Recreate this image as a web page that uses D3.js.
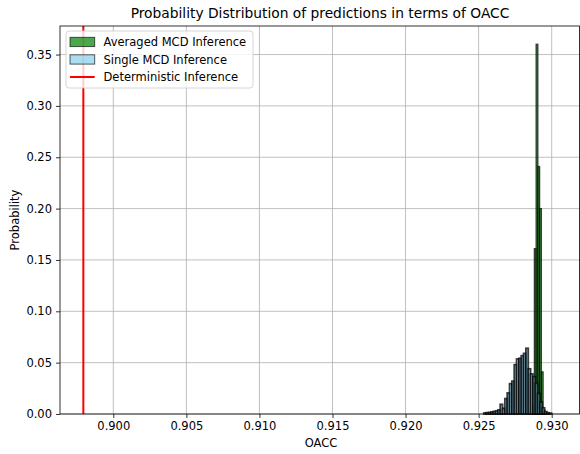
<!DOCTYPE html>
<html>
<head>
<meta charset="utf-8">
<script src="https://cdn.jsdelivr.net/npm/d3@7"></script>
<style>
  html, body { margin: 0; padding: 0; background: #fff; }
  svg { display: block; font-family: "DejaVu Sans", sans-serif; }
</style>
</head>
<body>
<svg id="chart" width="580" height="454"></svg>
<script>
// Tick positions
const xTickValues = [0.900, 0.905, 0.910, 0.915, 0.920, 0.925, 0.930];
const yTickValues = [0.00, 0.05, 0.10, 0.15, 0.20, 0.25, 0.30, 0.35];

// Deterministic inference OACC
const deterministicOacc = 0.89795;

// Single MCD inference histogram (probability per bin)
const singleBinStart = 0.925355;
const singleBinWidth = 0.00016;
const singleProb = [
  0.0010, 0.0013, 0.0015, 0.0020, 0.0025, 0.0030, 0.0040, 0.0094, 0.0055,
  0.0150, 0.0205, 0.0295, 0.0320, 0.0480, 0.0536, 0.0542, 0.0568, 0.0590,
  0.0640, 0.0440, 0.0390, 0.0363, 0.0300, 0.0200, 0.0115, 0.0060, 0.0023,
  0.0012, 0.0008
];

// Averaged MCD inference histogram (probability per bin)
const averagedBinStart = 0.928694;
const averagedBinWidth = 0.00012;
const averagedProb = [0.008, 0.161, 0.360, 0.241, 0.200, 0.041, 0.004];

const svg = d3.select("#chart");
const margin = { left: 60, top: 26, right: 0, bottom: 40 };
const W = 580, H = 454;
const plotBottom = 414;

const x = d3.scaleLinear().domain([0.896353, 0.931937]).range([margin.left, W - margin.right]);
const y = d3.scaleLinear().domain([0, 0.3778]).range([plotBottom, margin.top]);

const toBins = (start, width, probs) =>
  probs.map((p, i) => ({ x0: start + i * width, x1: start + (i + 1) * width, p }));

// Grid
const grid = svg.append("g").attr("stroke", "#b0b0b0").attr("stroke-width", 0.8);
grid.selectAll(".gx").data(xTickValues).join("line")
  .attr("x1", d => x(d)).attr("x2", d => x(d))
  .attr("y1", margin.top).attr("y2", plotBottom);
grid.selectAll(".gy").data(yTickValues).join("line")
  .attr("x1", margin.left).attr("x2", W)
  .attr("y1", d => y(d)).attr("y2", d => y(d));

// Histograms: narrow bins with dark outlines
function drawHist(bins, color, edgeWidth, edgeOpacity) {
  svg.append("g").selectAll("rect").data(bins).join("rect")
    .attr("x", d => x(d.x0))
    .attr("width", d => x(d.x1) - x(d.x0))
    .attr("y", d => y(d.p))
    .attr("height", d => y(0) - y(d.p))
    .attr("fill", color)
    .attr("fill-opacity", 0.7)
    .attr("stroke", "#000")
    .attr("stroke-opacity", edgeOpacity)
    .attr("stroke-width", edgeWidth);
}
drawHist(toBins(averagedBinStart, averagedBinWidth, averagedProb), "green", 1.3, 0.7);
drawHist(toBins(singleBinStart, singleBinWidth, singleProb), "skyblue", 1.8, 0.75);

// Deterministic line
svg.append("line")
  .attr("x1", x(deterministicOacc)).attr("x2", x(deterministicOacc))
  .attr("y1", margin.top).attr("y2", plotBottom)
  .attr("stroke", "red").attr("stroke-width", 2);

// Axes
const xAxis = d3.axisBottom(x).tickValues(xTickValues).tickFormat(d3.format(".3f")).tickSize(4).tickPadding(4);
const yAxis = d3.axisLeft(y).tickValues(yTickValues).tickFormat(d3.format(".2f")).tickSize(4).tickPadding(4);

const gx = svg.append("g").attr("transform", `translate(0,${plotBottom})`).call(xAxis);
const gy = svg.append("g").attr("transform", `translate(${margin.left},0)`).call(yAxis);
[gx, gy].forEach(g => {
  g.select(".domain").remove();
  g.selectAll("text").attr("fill", "#000").style("font-size", "11.5px").style("font-family", "DejaVu Sans");
  g.selectAll("line").attr("stroke", "#000").attr("stroke-width", 0.8);
});

// Spines
const spines = svg.append("g").attr("stroke", "#000").attr("stroke-width", 0.8).attr("fill", "none");
spines.append("rect")
  .attr("x", margin.left).attr("y", margin.top)
  .attr("width", W - margin.left - 0.5).attr("height", plotBottom - margin.top);

// Title and labels
svg.append("text").attr("x", 320).attr("y", 18).attr("text-anchor", "middle")
  .style("font-size", "13.8px").text("Probability Distribution of predictions in terms of OACC");
svg.append("text").attr("x", 321).attr("y", 447).attr("text-anchor", "middle")
  .style("font-size", "11.5px").text("OACC");
svg.append("text").attr("transform", "translate(19,220) rotate(-90)").attr("text-anchor", "middle")
  .style("font-size", "11.5px").text("Probability");

// Legend
const legend = svg.append("g");
legend.append("rect").attr("x", 66).attr("y", 31).attr("width", 187).attr("height", 57)
  .attr("rx", 3).attr("fill", "#fff").attr("fill-opacity", 0.8)
  .attr("stroke", "#cccccc").attr("stroke-width", 0.8);
const items = [
  { label: "Averaged MCD Inference", kind: "patch", color: "green" },
  { label: "Single MCD Inference", kind: "patch", color: "skyblue" },
  { label: "Deterministic Inference", kind: "line", color: "red" }
];
items.forEach((it, i) => {
  const cy = 42 + i * 17.5;
  if (it.kind === "patch") {
    legend.append("rect").attr("x", 70).attr("y", cy - 4.7).attr("width", 24.7).attr("height", 9.3)
      .attr("fill", it.color).attr("fill-opacity", 0.7)
      .attr("stroke", "#000").attr("stroke-opacity", 0.7).attr("stroke-width", 0.9);
  } else {
    legend.append("line").attr("x1", 70).attr("x2", 94.7).attr("y1", cy).attr("y2", cy)
      .attr("stroke", it.color).attr("stroke-width", 2);
  }
  legend.append("text").attr("x", 103.5).attr("y", cy + 4.2)
    .style("font-size", "11.5px").text(it.label);
});
</script>
</body>
</html>
